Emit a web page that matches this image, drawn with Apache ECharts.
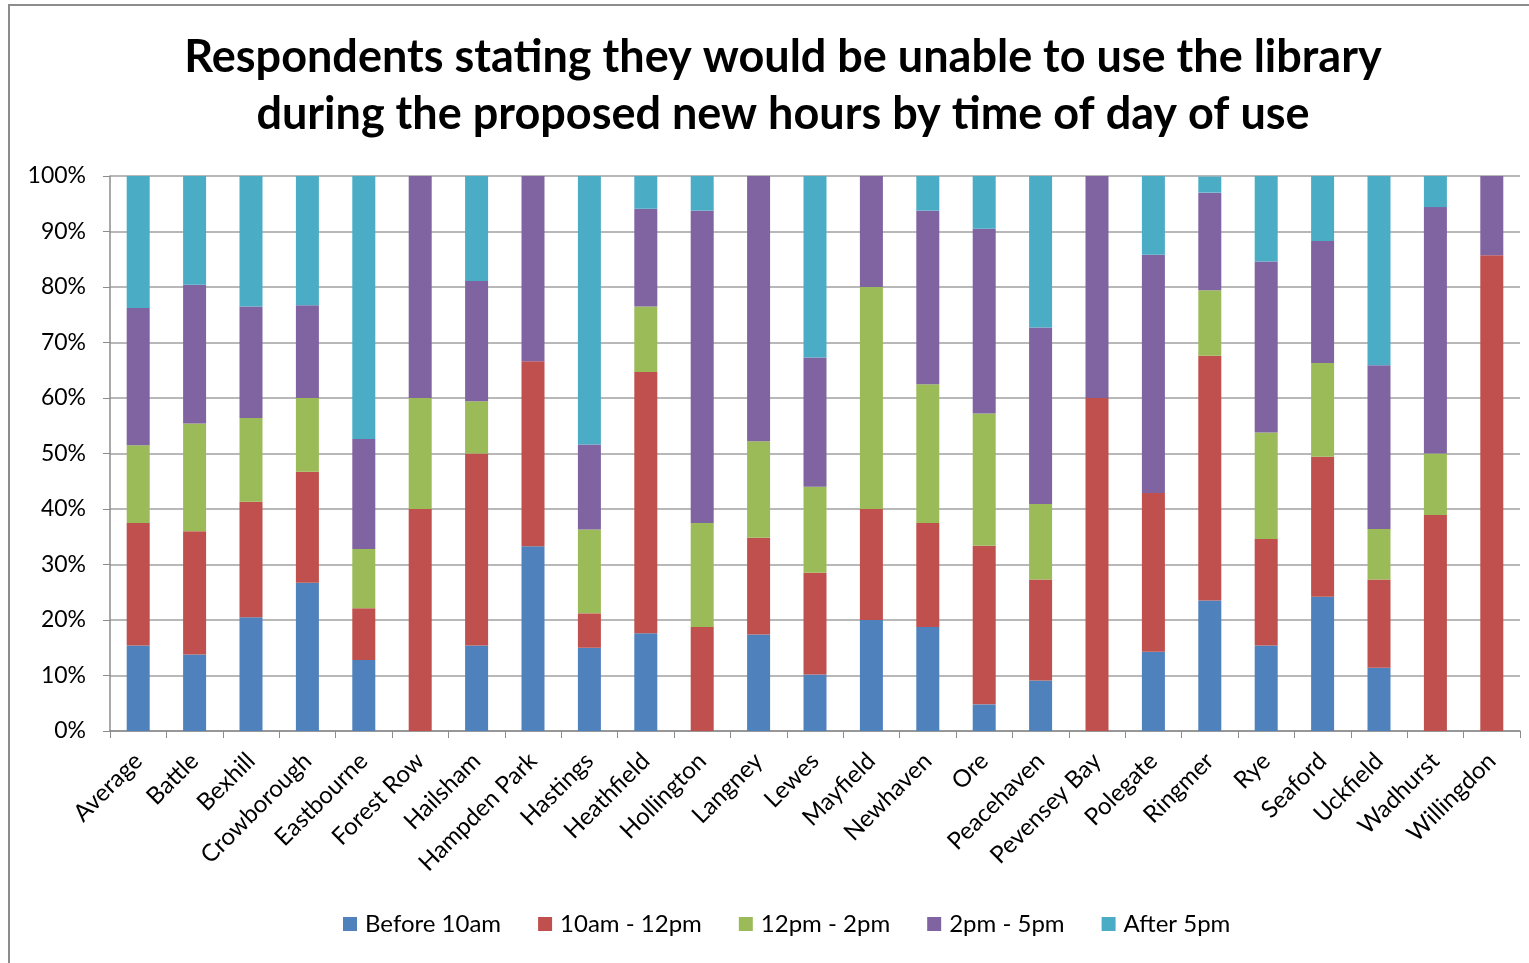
<!DOCTYPE html>
<html><head><meta charset="utf-8">
<script src="https://cdn.jsdelivr.net/npm/echarts@6/dist/echarts.min.js"></script>
<style>
html,body{margin:0;padding:0;background:#fff;}
#frame{position:absolute;left:8px;top:4px;width:1540px;height:990px;border:2px solid #8c8c8c;box-sizing:border-box;}
#c{position:absolute;left:0;top:0;width:1529px;height:963px;}
</style></head>
<body>
<div id="frame"></div>
<div id="c"></div>
<script>
const categories = ["Average","Battle","Bexhill","Crowborough","Eastbourne","Forest Row","Hailsham","Hampden Park","Hastings","Heathfield","Hollington","Langney","Lewes","Mayfield","Newhaven","Ore","Peacehaven","Pevensey Bay","Polegate","Ringmer","Rye","Seaford","Uckfield","Wadhurst","Willingdon"];
const seriesNames = ["Before 10am","10am - 12pm","12pm - 2pm","2pm - 5pm","After 5pm"];
const before10 = [15.4,13.8,20.5,26.7,12.8,0,15.4,33.3,15.0,17.6,0,17.4,10.2,20,18.75,4.8,9.1,0,14.3,23.5,15.4,24.2,11.4,0,0];
const am10to12 = [22.1,22.2,20.8,20.0,9.3,40,34.6,33.3,6.2,47.1,18.75,17.4,18.3,20,18.75,28.6,18.2,60,28.6,44.1,19.2,25.2,15.9,38.9,85.7];
const pm12to2 = [14.0,19.4,15.1,13.3,10.7,20,9.4,0,15.1,11.8,18.75,17.4,15.5,40,25,23.8,13.6,0,0,11.8,19.2,16.9,9.1,11.1,0];
const pm2to5 = [24.7,25.0,20.1,16.7,19.8,40,21.7,33.4,15.3,17.6,56.25,47.8,23.3,20,31.25,33.3,31.8,40,42.9,17.6,30.8,22.0,29.5,44.4,14.3];
const after5 = [23.8,19.6,23.5,23.3,47.4,0,18.9,0,48.4,5.9,6.25,0,32.7,0,6.25,9.5,27.3,0,14.2,2.9,15.4,11.7,34.1,5.6,0];
const yTicks = ["0%","10%","20%","30%","40%","50%","60%","70%","80%","90%","100%"];
const colors = ["#4F81BD","#C0504D","#9BBB59","#8064A2","#4BACC6"];
const values = [before10, am10to12, pm12to2, pm2to5, after5];
const font = "Lato, 'Open Sans', sans-serif";

const chart = echarts.init(document.getElementById('c'), null, {renderer:'canvas'});
chart.setOption({
  animation:false,
  title:{
    text:"Respondents stating they would be unable to use the library\nduring the proposed new hours by time of day of use",
    left:778, top:24, textAlign:'center',
    textStyle:{fontFamily:font, fontWeight:'bold', fontSize:45, lineHeight:57, color:'#000'}
  },
  legend:{
    data:seriesNames, bottom:22, left:338, itemWidth:14, itemHeight:14, itemGap:37, icon:'rect',
    textStyle:{fontFamily:font, fontSize:24, color:'#000', padding:[0,0,0,3]}
  },
  grid:{left:110, right:9, top:176, bottom:232, containLabel:false},
  xAxis:{
    type:'category', data:categories,
    axisLine:{show:true, lineStyle:{color:'#8c8c8c', width:1.5}},
    axisTick:{show:true, alignWithLabel:false, length:7, lineStyle:{color:'#8c8c8c'}},
    axisLabel:{rotate:45, interval:0, fontFamily:font, fontSize:24, color:'#000', margin:26}
  },
  yAxis:{
    type:'value', min:0, max:100, interval:10,
    axisLine:{show:true, lineStyle:{color:'#8c8c8c', width:1.5}},
    axisTick:{show:true, length:7, lineStyle:{color:'#8c8c8c'}},
    splitLine:{show:true, lineStyle:{color:'#a0a0a0', width:1.5}},
    axisLabel:{fontFamily:font, fontSize:23, color:'#000', margin:24,
      formatter:function(v){return yTicks[Math.round(v/10)];}}
  },
  series: seriesNames.map((n,i)=>({
    name:n, type:'bar', stack:'total', data:values[i], barWidth:23,
    itemStyle:{color:colors[i]}
  }))
});
</script>
</body></html>
